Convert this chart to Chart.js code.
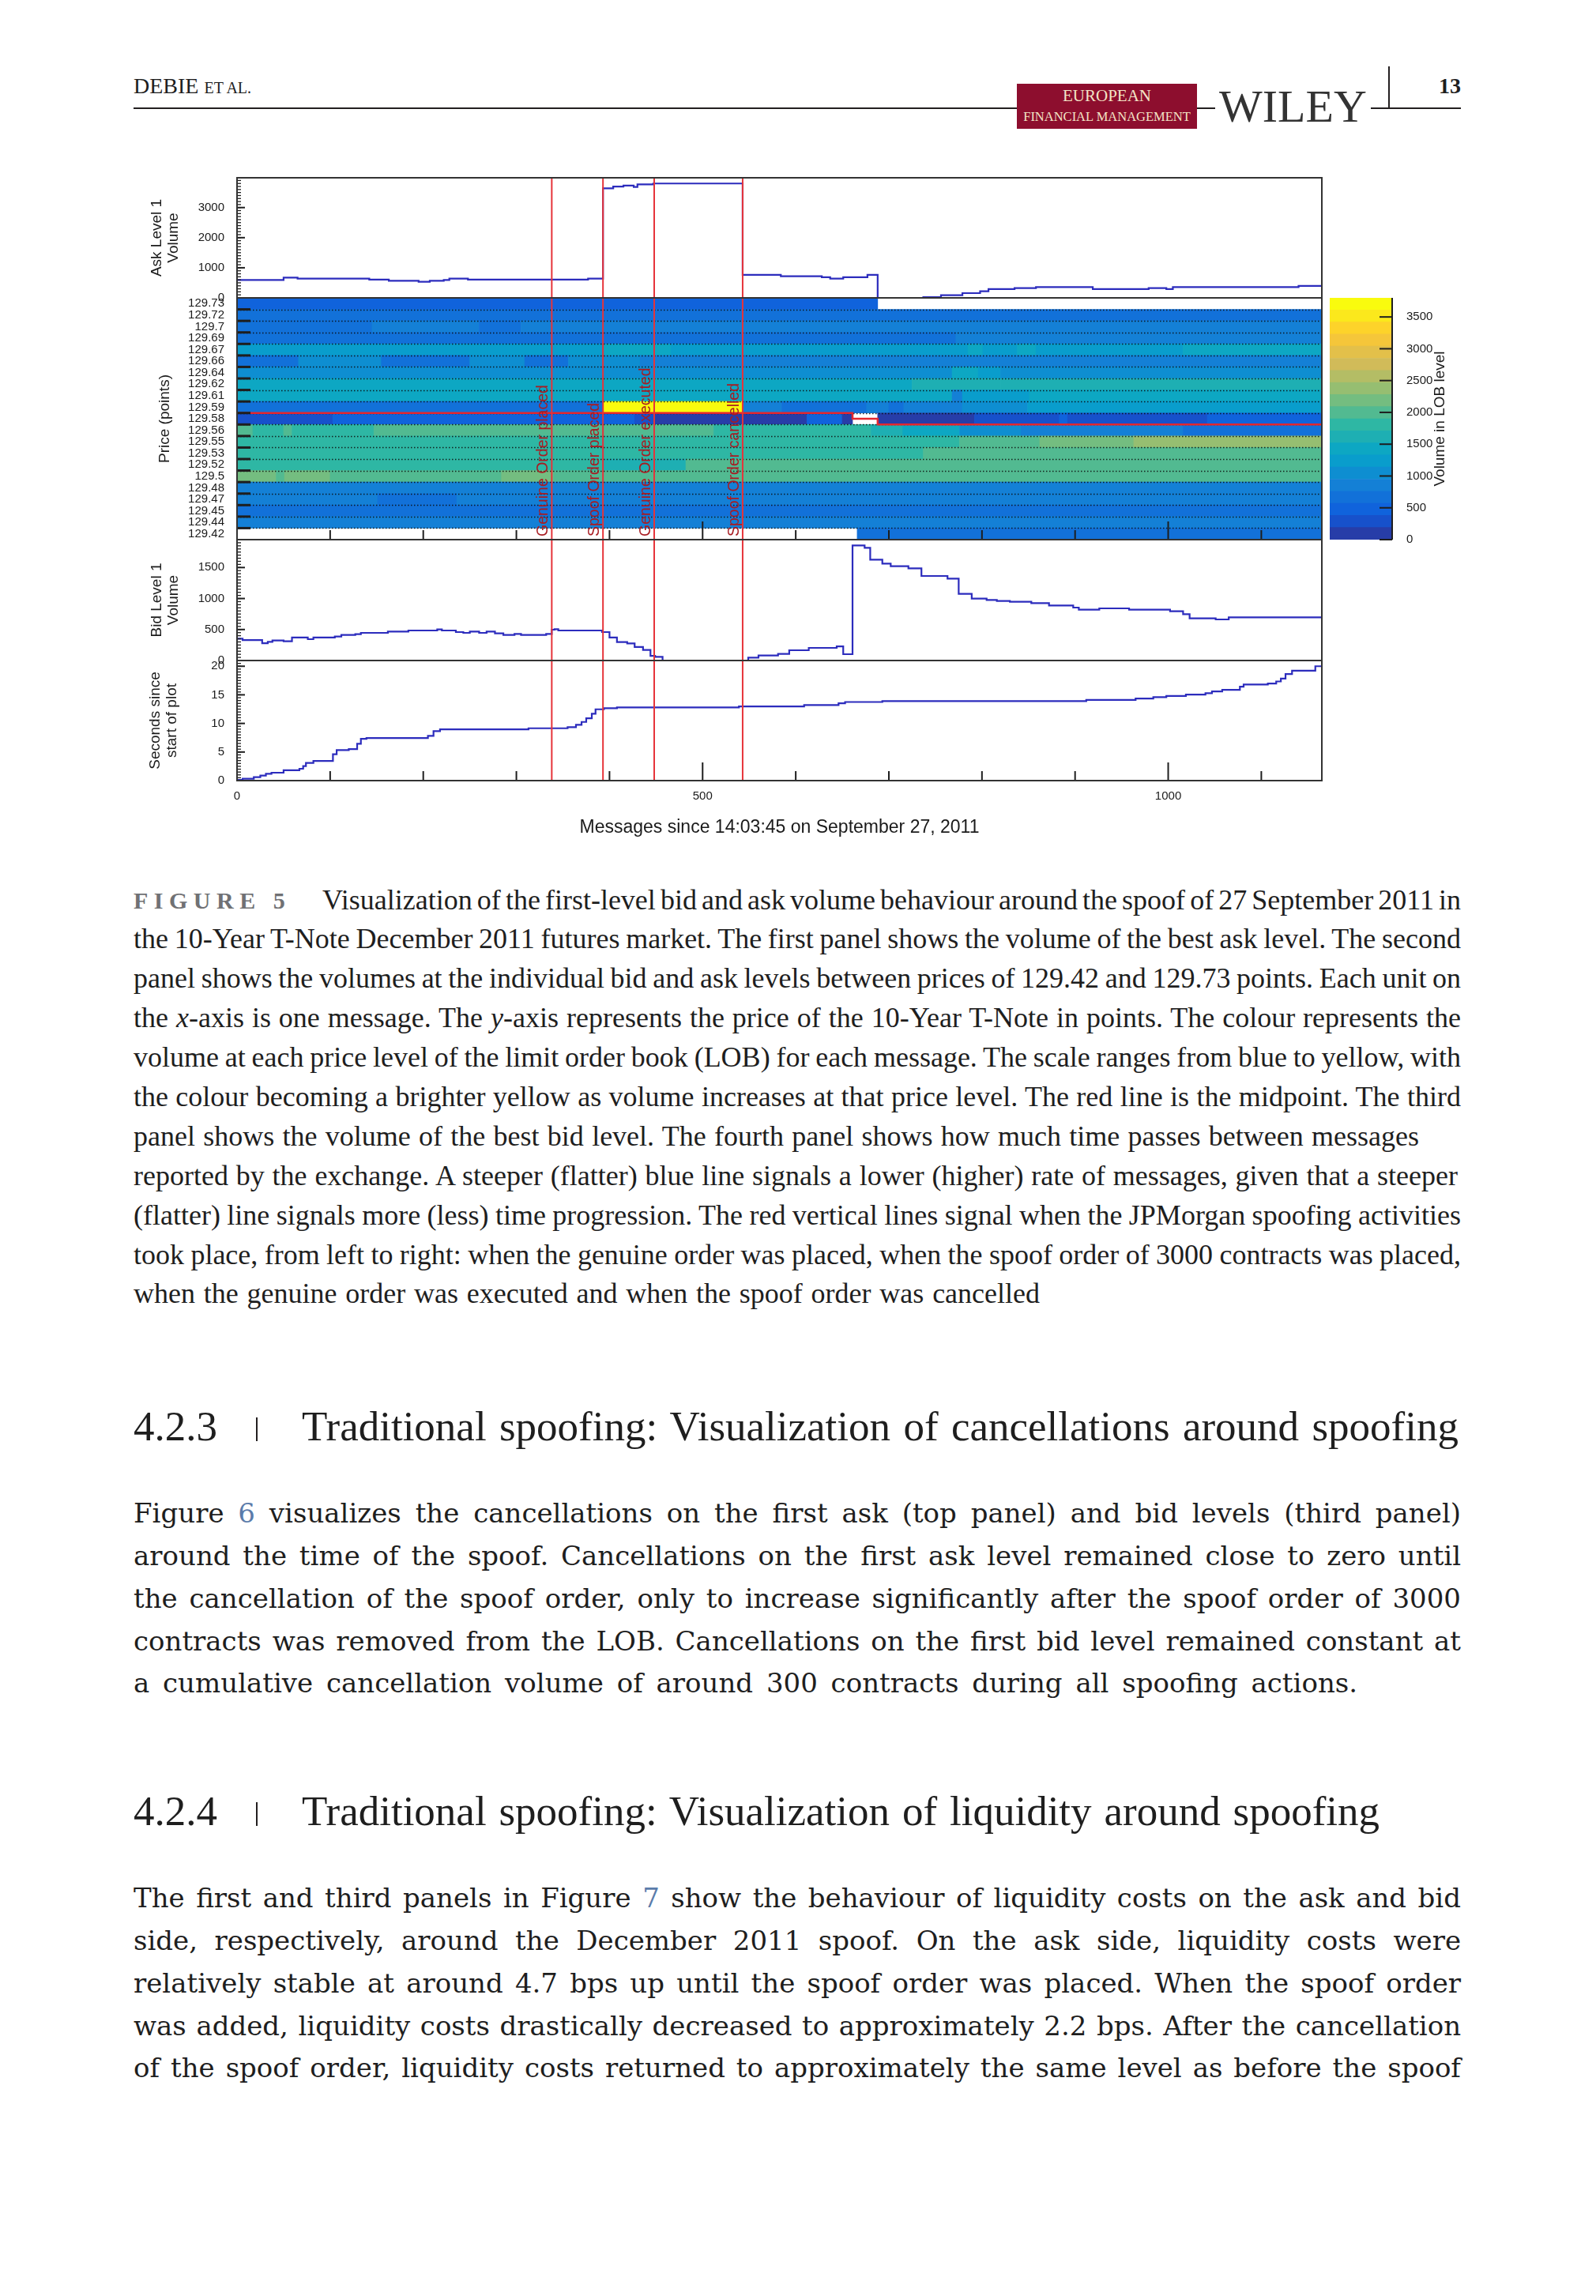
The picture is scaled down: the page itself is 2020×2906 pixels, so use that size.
<!DOCTYPE html>
<html lang="en">
<head>
<meta charset="utf-8">
<title>Debie et al. - Figure 5</title>
<script src="https://cdn.jsdelivr.net/npm/chart.js@4.4.1/dist/chart.umd.min.js"></script>
<style>
  html, body { margin: 0; padding: 0; background: #fff; }
  body { position: relative; width: 2020px; height: 2906px; overflow: hidden; color: #1e1e1e; }
  canvas { position: absolute; }
  .t { position: absolute; white-space: nowrap; }
  .serif { font-family: "Liberation Serif", "Times New Roman", serif; }
  .cap { font: 36px/36px "Liberation Serif", "Times New Roman", serif; }
  .txt { font: 34px/34px "DejaVu Serif", serif; }
  .hd { font: 53px/53px "Liberation Serif", "Times New Roman", serif; }
  .lnk { color: #5b7cab; }
  .rule { position: absolute; background: #231f20; }
</style>
</head>
<body>

<!-- running head -->
<div class="t serif" style="left:169px; top:95px; font-size:28px; line-height:28px;">DEBIE <span style="font-size:20px">ET AL.</span></div>
<div class="rule" style="left:169px; top:136px; width:1680px; height:2px;"></div>
<div class="t" style="left:1287px; top:106px; width:228px; height:57px; background:#8d0e2e;"></div>
<div class="t serif" style="left:1287px; top:111px; width:228px; text-align:center; font-size:21px; line-height:21px; color:#f3e4c6;">EUROPEAN</div>
<div class="t serif" style="left:1287px; top:139px; width:228px; text-align:center; font-size:16.5px; line-height:17px; color:#f3e4c6;">FINANCIAL MANAGEMENT</div>
<div class="t serif" style="left:1538px; top:106px; padding:0 5px; background:#fff; font-size:58px; line-height:58px; color:#333;">WILEY</div>
<div class="rule" style="left:1757px; top:84px; width:2px; height:52px;"></div>
<div class="t serif" style="left:1821px; top:95px; font-size:28px; line-height:28px; font-weight:bold;">13</div>

<!-- figure panels -->
<canvas id="cAsk" width="1530" height="172" style="left:150px; top:215px;"></canvas>
<canvas id="cHeat" width="1530" height="326" style="left:150px; top:367px;"></canvas>
<canvas id="cBid" width="1530" height="173" style="left:150px; top:673px;"></canvas>
<canvas id="cSec" width="1530" height="242" style="left:150px; top:826px;"></canvas>
<canvas id="cBar" width="245" height="326" style="left:1675px; top:367px;"></canvas>

<!-- caption -->
<div class="t serif" style="left:169px; top:1125px; font-size:30px; line-height:30px; font-weight:bold; letter-spacing:7.5px; color:#707174;">FIGURE 5</div>
<div class="t cap" data-r="1849" style="left:408px; top:1121px;">Visualization of the first-level bid and ask volume behaviour around the spoof of 27 September 2011 in</div>
<div class="t cap" data-r="1849" style="left:169px; top:1170px;">the 10-Year T-Note December 2011 futures market. The first panel shows the volume of the best ask level. The second</div>
<div class="t cap" data-r="1849" style="left:169px; top:1220px;">panel shows the volumes at the individual bid and ask levels between prices of 129.42 and 129.73 points. Each unit on</div>
<div class="t cap" data-r="1849" style="left:169px; top:1270px;">the <i>x</i>-axis is one message. The <i>y</i>-axis represents the price of the 10-Year T-Note in points. The colour represents the</div>
<div class="t cap" data-r="1849" style="left:169px; top:1320px;">volume at each price level of the limit order book (LOB) for each message. The scale ranges from blue to yellow, with</div>
<div class="t cap" data-r="1849" style="left:169px; top:1370px;">the colour becoming a brighter yellow as volume increases at that price level. The red line is the midpoint. The third</div>
<div class="t cap" data-r="1796" style="left:169px; top:1420px;">panel shows the volume of the best bid level. The fourth panel shows how much time passes between messages</div>
<div class="t cap" data-r="1845" style="left:169px; top:1470px;">reported by the exchange. A steeper (flatter) blue line signals a lower (higher) rate of messages, given that a steeper</div>
<div class="t cap" data-r="1849" style="left:169px; top:1520px;">(flatter) line signals more (less) time progression. The red vertical lines signal when the JPMorgan spoofing activities</div>
<div class="t cap" data-r="1849" style="left:169px; top:1570px;">took place, from left to right: when the genuine order was placed, when the spoof order of 3000 contracts was placed,</div>
<div class="t cap" data-r="1316" style="left:169px; top:1619px;">when the genuine order was executed and when the spoof order was cancelled</div>

<!-- section 4.2.3 -->
<div class="t hd" style="left:169px; top:1779px;">4.2.3</div>
<div class="rule" style="left:324px; top:1794px; width:2px; height:30px;"></div>
<div class="t hd" data-r="1846" style="left:382px; top:1779px;">Traditional spoofing: Visualization of cancellations around spoofing</div>
<div class="t txt" data-r="1849" style="left:169px; top:1898px;">Figure <span class="lnk">6</span> visualizes the cancellations on the first ask (top panel) and bid levels (third panel)</div>
<div class="t txt" data-r="1849" style="left:169px; top:1952px;">around the time of the spoof. Cancellations on the first ask level remained close to zero until</div>
<div class="t txt" data-r="1849" style="left:169px; top:2006px;">the cancellation of the spoof order, only to increase significantly after the spoof order of 3000</div>
<div class="t txt" data-r="1849" style="left:169px; top:2060px;">contracts was removed from the LOB. Cancellations on the first bid level remained constant at</div>
<div class="t txt" data-r="1718" style="left:169px; top:2113px;">a cumulative cancellation volume of around 300 contracts during all spoofing actions.</div>

<!-- section 4.2.4 -->
<div class="t hd" style="left:169px; top:2266px;">4.2.4</div>
<div class="rule" style="left:324px; top:2281px; width:2px; height:30px;"></div>
<div class="t hd" data-r="1746" style="left:382px; top:2266px;">Traditional spoofing: Visualization of liquidity around spoofing</div>
<div class="t txt" data-r="1849" style="left:169px; top:2385px;">The first and third panels in Figure <span class="lnk">7</span> show the behaviour of liquidity costs on the ask and bid</div>
<div class="t txt" data-r="1849" style="left:169px; top:2439px;">side, respectively, around the December 2011 spoof. On the ask side, liquidity costs were</div>
<div class="t txt" data-r="1849" style="left:169px; top:2493px;">relatively stable at around 4.7 bps up until the spoof order was placed. When the spoof order</div>
<div class="t txt" data-r="1849" style="left:169px; top:2547px;">was added, liquidity costs drastically decreased to approximately 2.2 bps. After the cancellation</div>
<div class="t txt" data-r="1849" style="left:169px; top:2600px;">of the spoof order, liquidity costs returned to approximately the same level as before the spoof</div>

<script>
// ---------- values ----------
const xMax = 1165;

// price levels of the LOB panel, top to bottom
const priceLevels = ['129.73', '129.72', '129.7', '129.69', '129.67', '129.66', '129.64', '129.62', '129.61', '129.59',
  '129.58', '129.56', '129.55', '129.53', '129.52', '129.5', '129.48', '129.47', '129.45', '129.44', '129.42'];

// spoofing events (message number)
const eventX = [338, 393, 448, 543];
const eventLabels = ['Genuine Order placed', 'Spoof Order placed', 'Genuine Order executed', 'Spoof Order cancelled'];

// ask level 1 volume, value holds from each message number on
const askX = [0, 50, 65, 142, 163, 195, 207, 222, 228, 248, 377, 393, 404, 415, 426, 430, 447, 543, 584, 628,
  637, 651, 677, 688, 737, 756, 779, 798, 807, 835, 858, 919, 979, 998, 1005, 1140, 1165];
const askVol = [596, 675, 640, 605, 570, 535, 570, 596, 640, 605, 640, 3640, 3700, 3730, 3685, 3770, 3800, 763, 720, 684,
  640, 684, 763, 0, 26, 88, 158, 220, 290, 325, 360, 290, 325, 290, 360, 395, 395];

// bid level 1 volume
const bidX = [0, 6, 27, 33, 38, 50, 59, 76, 82, 105, 112, 127, 133, 162, 184, 215, 220, 235, 243, 250,
  260, 268, 277, 286, 298, 305, 332, 338, 341, 345, 392, 400, 408, 419, 427, 436, 444, 449, 457, 549,
  560, 581, 593, 614, 644, 651, 661, 674, 680, 693, 702, 721, 735, 763, 775, 789, 805, 816, 830, 853,
  872, 898, 904, 926, 958, 1002, 1016, 1023, 1051, 1065, 1165];
const bidVol = [353, 331, 280, 302, 323, 310, 370, 344, 370, 387, 412, 425, 446, 467, 484, 501, 484, 459, 446, 467,
  446, 467, 437, 412, 429, 412, 429, 497, 505, 484, 459, 370, 297, 276, 217, 170, 76, 59, 0, 47,
  81, 106, 166, 204, 229, 102, 1856, 1818, 1627, 1563, 1521, 1487, 1364, 1321, 1075, 998, 977, 960, 947, 926,
  888, 854, 820, 841, 820, 794, 748, 680, 663, 697, 697];

// seconds since start of plot
const secX = [0, 6, 18, 25, 31, 37, 50, 67, 71, 74, 82, 103, 107, 120, 129, 133, 139, 205, 211, 218,
  313, 355, 364, 370, 375, 381, 385, 394, 408, 539, 609, 646, 653, 693, 912, 965, 984, 998, 1019, 1040,
  1047, 1058, 1077, 1081, 1107, 1116, 1121, 1126, 1133, 1158, 1165];
const secVal = [0.14, 0.32, 0.6, 0.87, 1.2, 1.38, 1.8, 2.07, 2.53, 3.08, 3.45, 4.6, 5.34, 5.52, 6.44, 7.31, 7.45, 7.82, 8.65, 8.97,
  9.15, 9.34, 9.75, 10.26, 10.9, 11.7, 12.47, 12.65, 12.79, 12.97, 13.2, 13.52, 13.75, 13.89, 14.12, 14.35, 14.58, 14.81, 15.04, 15.27,
  15.6, 15.87, 16.42, 16.79, 16.97, 17.34, 17.85, 18.63, 19.23, 20.0, 20.2];

// midpoint, in price-level rows (9.5 = between 129.59 and 129.58)
const midX = [0, 661, 688, 1165];
const midLevel = [9.5, 10, 10.5, 10.5];

// LOB volume per price level: [from message, to message, volume]
const lobRows = [
  [[0, 688, 560]],
  [[0, 1165, 640]],
  [[0, 145, 680], [145, 260, 820], [260, 305, 720], [305, 1165, 830]],
  [[0, 772, 700], [772, 1165, 760]],
  [[0, 393, 1300], [393, 466, 1420], [466, 785, 1150], [785, 801, 1400], [801, 838, 1150], [838, 858, 1400], [858, 1016, 1150], [1016, 1165, 1400]],
  [[0, 66, 750], [66, 155, 1000], [155, 250, 750], [250, 309, 1000], [309, 356, 740], [356, 433, 1000], [433, 768, 850], [768, 1165, 900]],
  [[0, 768, 1100], [768, 796, 1400], [796, 820, 1150], [820, 1165, 1100]],
  [[0, 725, 1400], [725, 820, 1550], [820, 1165, 1650]],
  [[0, 768, 1350], [768, 779, 900], [779, 851, 1150], [851, 1165, 1450]],
  [[0, 393, 620], [393, 543, 3700], [543, 585, 900], [585, 676, 680], [676, 700, 850], [700, 716, 680], [716, 779, 800], [779, 849, 1000], [849, 1165, 1150]],
  [[0, 103, 300], [103, 427, 520], [427, 448, 300], [448, 612, 180], [612, 650, 420], [650, 661, 180], [688, 792, 100], [792, 883, 350], [883, 892, 500], [892, 1042, 350], [1042, 1058, 450], [1058, 1165, 520]],
  [[0, 17, 2000], [17, 50, 1800], [50, 59, 2000], [59, 147, 1800], [147, 512, 2000], [512, 681, 1800], [681, 715, 1550], [715, 776, 1350], [776, 842, 1050], [842, 1016, 900], [1016, 1165, 700]],
  [[0, 776, 1850], [776, 862, 2050], [862, 963, 2250], [963, 1165, 2450]],
  [[0, 737, 1850], [737, 1165, 2000]],
  [[0, 393, 1800], [393, 482, 1650], [482, 1165, 1950]],
  [[0, 42, 2150], [42, 51, 1900], [51, 100, 2150], [100, 284, 1900], [284, 340, 2150], [340, 1165, 2000]],
  [[0, 1165, 850]],
  [[0, 151, 850], [151, 236, 750], [236, 1165, 830]],
  [[0, 1165, 640]],
  [[0, 772, 900], [772, 1165, 760]],
  [[666, 1165, 650]]
];

// tick labels
const askTicks = [0, 1000, 2000, 3000];
const bidTicks = [0, 500, 1000, 1500];
const secTicks = [0, 5, 10, 15, 20];
const msgTicks = [0, 500, 1000];
const zTicks = [0, 500, 1000, 1500, 2000, 2500, 3000, 3500];
const zMax = 3800;
const nContours = 20;
const xTitle = 'Messages since 14:03:45 on September 27, 2011';
const zTitle = 'Volume in LOB level';

// ---------- colour palette (ROOT "bird") ----------
const birdStops = [0, 0.125, 0.25, 0.375, 0.5, 0.625, 0.75, 0.875, 1];
const birdR = [0.2082, 0.0592, 0.0780, 0.0232, 0.1802, 0.5301, 0.8186, 0.9956, 0.9764];
const birdG = [0.1664, 0.3599, 0.5041, 0.6419, 0.7178, 0.7492, 0.7328, 0.7862, 0.9832];
const birdB = [0.5293, 0.8684, 0.8385, 0.7914, 0.6425, 0.4662, 0.3499, 0.1968, 0.0539];

function bird(t) {
  let i = 0;
  while (i < birdStops.length - 2 && t > birdStops[i + 1]) i++;
  const f = (t - birdStops[i]) / (birdStops[i + 1] - birdStops[i]);
  const c = arr => Math.round(255 * (arr[i] + (arr[i + 1] - arr[i]) * f));
  return `rgb(${c(birdR)},${c(birdG)},${c(birdB)})`;
}
const zColors = [];
for (let i = 0; i < nContours; i++) zColors.push(bird(Math.floor((i + 0.99) * 255 / nContours) / 254));
const zColor = v => zColors[Math.max(0, Math.min(nContours - 1, Math.floor(v / (zMax / nContours))))];

const toPts = (xs, ys) => xs.map((x, i) => ({ x, y: ys[i] }));
const plain = v => String(v);   // no thousands separator, as in ROOT

// ---------- plugins ----------
function seg(ctx, x1, y1, x2, y2) { ctx.beginPath(); ctx.moveTo(x1, y1); ctx.lineTo(x2, y2); ctx.stroke(); }

// ROOT style frame: box, inward ticks, red event lines
const rootFrame = {
  id: 'rootFrame',
  afterDatasetDraw(chart, args, o) {
    // dotted separators between price levels, under the midpoint line
    if (!o.rows || args.meta.type !== 'bar') return;
    const { ctx, chartArea: a } = chart;
    const ys = chart.scales.y;
    ctx.save();
    ctx.strokeStyle = 'rgba(10,10,10,0.85)';
    ctx.lineWidth = 1.5;
    ctx.setLineDash([1.5, 2.5]);
    for (let k = 0; k < priceLevels.length - 1; k++) {
      const py = Math.round(ys.getPixelForValue(k + 0.5)) + 0.5;
      seg(ctx, a.left, py, a.right, py);
    }
    ctx.restore();
  },
  afterDatasetsDraw(chart, args, o) {
    const { ctx, chartArea: a } = chart;
    const xs = chart.scales.x, ys = chart.scales.y;
    ctx.save();
    // event lines
    ctx.strokeStyle = '#e6343a';
    ctx.lineWidth = 2;
    eventX.forEach(v => { const px = xs.getPixelForValue(v); seg(ctx, px, a.top, px, a.bottom); });
    if (o.eventLabels) {
      ctx.fillStyle = '#a81c22';
      ctx.font = '19.5px "Liberation Sans", Arial, sans-serif';
      ctx.textAlign = 'left';
      ctx.textBaseline = 'bottom';
      eventX.forEach((v, i) => {
        ctx.save();
        ctx.translate(xs.getPixelForValue(v) - 1, a.bottom - 4);
        ctx.rotate(-Math.PI / 2);
        ctx.fillText(eventLabels[i], 0, 0);
        ctx.restore();
      });
    }
    ctx.strokeStyle = '#1e1e1e';
    // y ticks
    if (o.yMinor) {
      ctx.lineWidth = 1.3;
      const n = Math.round((ys.max - ys.min) / o.yMinor);
      for (let i = 0; i <= n; i++) {
        const py = ys.getPixelForValue(ys.min + i * o.yMinor);
        seg(ctx, a.left, py, a.left + 5, py);
      }
      ctx.lineWidth = 2;
      ys.ticks.forEach(t => { const py = ys.getPixelForValue(t.value); seg(ctx, a.left, py, a.left + 10, py); });
    }
    if (o.rows) {
      ctx.lineWidth = 3;
      for (let k = 0; k < priceLevels.length - 1; k++) {
        const py = ys.getPixelForValue(k + 0.5);
        seg(ctx, a.left, py, a.left + 17, py);
      }
    }
    // x ticks every 100 messages
    if (o.xTicks) {
      ctx.lineWidth = 2;
      for (let v = 100; v < xs.max; v += 100) {
        const px = xs.getPixelForValue(v);
        seg(ctx, px, a.bottom, px, a.bottom - (v % 500 === 0 ? 23 : 12));
      }
    }
    // frame
    ctx.strokeStyle = '#333';
    ctx.lineWidth = 2;
    ctx.strokeRect(a.left, a.top, a.right - a.left, a.bottom - a.top);
    ctx.restore();
  }
};

// colour bar axis: inward ticks and rotated title
const zAxisDeco = {
  id: 'zAxisDeco',
  afterDraw(chart) {
    const { ctx, chartArea: a } = chart;
    const ys = chart.scales.y;
    ctx.save();
    ctx.strokeStyle = '#1e1e1e';
    ctx.lineWidth = 2;
    seg(ctx, a.right, a.top, a.right, a.bottom);
    ys.ticks.forEach(t => { const py = ys.getPixelForValue(t.value); seg(ctx, a.right - 16, py, a.right, py); });
    ctx.fillStyle = '#1a1a1a';
    ctx.font = '19px "Liberation Sans", Arial, sans-serif';
    ctx.textAlign = 'center';
    ctx.textBaseline = 'middle';
    ctx.translate(148, (a.top + a.bottom) / 2);
    ctx.rotate(-Math.PI / 2);
    ctx.fillText(zTitle, 0, 0);
    ctx.restore();
  }
};

// ---------- chart helpers ----------
Chart.defaults.font.family = '"Liberation Sans", Arial, sans-serif';
Chart.defaults.color = '#1a1a1a';

function yAxis(min, max, tickVals, title, titlePad, extra) {
  return Object.assign({
    type: 'linear', min, max, bounds: 'data', offset: false,
    afterFit: s => { s.width = 150; s.paddingTop = 0; s.paddingBottom = 0; },
    afterBuildTicks: s => { s.ticks = tickVals.map(v => ({ value: v })); },
    grid: { display: false }, border: { display: false },
    ticks: { padding: 8, autoSkip: false, font: { size: 15 }, callback: plain },
    title: { display: true, text: title, font: { size: 19, lineHeight: 1.08 }, padding: { top: titlePad, bottom: 0 } }
  }, extra || {});
}

const hiddenX = { type: 'linear', min: 0, max: xMax, bounds: 'data', offset: false, display: false };

function stepLine(xs, ys) {
  return { type: 'line', data: toPts(xs, ys), stepped: true, borderColor: '#2c2cbd', borderWidth: 2.2, pointRadius: 0, fill: false };
}

function panel(id, datasets, yScale, frame, xScale, bottomPad) {
  return new Chart(document.getElementById(id), {
    type: 'line',
    data: { datasets },
    plugins: [rootFrame],
    options: {
      responsive: false, animation: false, devicePixelRatio: 1, events: [],
      layout: { padding: { top: 10, bottom: bottomPad, left: 0, right: 7 } },
      plugins: { legend: { display: false }, tooltip: { enabled: false }, rootFrame: frame },
      scales: { x: xScale || hiddenX, y: yScale }
    }
  });
}

// ask level 1 volume
panel('cAsk', [stepLine(askX, askVol)],
  yAxis(0, 3990, askTicks, ['Ask Level 1', 'Volume'], 38.5), { yMinor: 100 }, null, 10);

// LOB heat map
const cells = [];
lobRows.forEach((row, i) => row.forEach(([a, b, v]) => cells.push({ x: [a, b], y: i, v })));
panel('cHeat', [
  { type: 'bar', indexAxis: 'y', data: cells, backgroundColor: cells.map(c => zColor(c.v)),
    barPercentage: 1, categoryPercentage: 1, borderWidth: 0, order: 2 },
  { type: 'line', data: toPts(midX, midLevel), stepped: true, borderColor: '#e3262e', borderWidth: 2.5,
    pointRadius: 0, fill: false, order: 1 }
], yAxis(-0.5, priceLevels.length - 0.5, priceLevels.map((p, i) => i), 'Price (points)', 48.5, {
  reverse: true,
  ticks: { padding: 8, autoSkip: false, font: { size: 15 }, callback: v => priceLevels[v] }
}), { rows: true, eventLabels: true, xTicks: true }, null, 10);

// bid level 1 volume
panel('cBid', [stepLine(bidX, bidVol)],
  yAxis(0, 1950, bidTicks, ['Bid Level 1', 'Volume'], 38.5), { yMinor: 50 }, null, 10);

// seconds since start
panel('cSec', [stepLine(secX, secVal)],
  yAxis(0, 21, secTicks, ['Seconds since', 'start of plot'], 36.5), { yMinor: 0.5, xTicks: true }, {
    type: 'linear', min: 0, max: xMax, bounds: 'data', offset: false, position: 'bottom',
    afterFit: s => { s.height = 80; s.paddingLeft = 0; s.paddingRight = 0; },
    afterBuildTicks: s => { s.ticks = msgTicks.map(v => ({ value: v })); },
    grid: { display: false }, border: { display: false },
    ticks: { padding: 3, autoSkip: false, maxRotation: 0, font: { size: 15 }, callback: plain },
    title: { display: true, text: xTitle, font: { size: 23 }, padding: { top: 0, bottom: 7 } }
  }, 0);

// colour bar
new Chart(document.getElementById('cBar'), {
  type: 'bar',
  data: {
    labels: ['z'],
    datasets: zColors.map(c => ({ data: [zMax / nContours], backgroundColor: c, borderWidth: 0,
      barPercentage: 1, categoryPercentage: 1 }))
  },
  plugins: [zAxisDeco],
  options: {
    responsive: false, animation: false, devicePixelRatio: 1, events: [],
    layout: { padding: { top: 10, bottom: 10, left: 8, right: 0 } },
    plugins: { legend: { display: false }, tooltip: { enabled: false } },
    scales: {
      x: { display: false, stacked: true },
      y: {
        type: 'linear', position: 'right', stacked: true, min: 0, max: zMax, bounds: 'data',
        afterFit: s => { s.width = 158; s.paddingTop = 0; s.paddingBottom = 0; },
        afterBuildTicks: s => { s.ticks = zTicks.map(v => ({ value: v })); },
        grid: { display: false }, border: { display: false },
        ticks: { padding: 10, autoSkip: false, font: { size: 15 }, callback: plain }
      }
    }
  }
});

// ---------- justify text lines to the widths of the printed page ----------
document.querySelectorAll('[data-r]').forEach(el => {
  const target = parseFloat(el.dataset.r) - parseFloat(el.style.left);
  el.style.wordSpacing = '0px';
  const w = el.getBoundingClientRect().width;
  const gaps = (el.textContent.match(/ /g) || []).length;
  if (gaps) el.style.wordSpacing = ((target - w) / gaps).toFixed(2) + 'px';
});
</script>
</body>
</html>
